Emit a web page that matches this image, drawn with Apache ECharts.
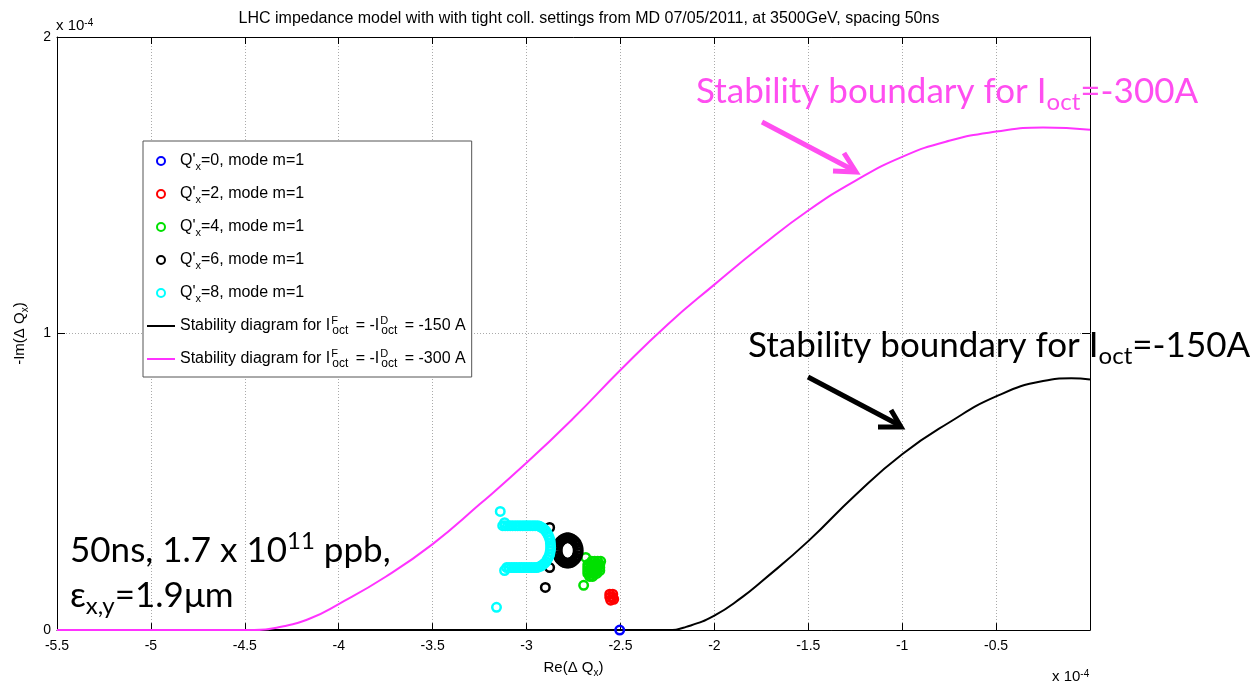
<!DOCTYPE html>
<html>
<head>
<meta charset="utf-8">
<script src="https://cdn.jsdelivr.net/npm/echarts@6/dist/echarts.min.js"></script>
<style>
  html, body { margin: 0; padding: 0; background: #fff; }
  #chart { width: 1256px; height: 683px; }
</style>
</head>
<body>
<div id="chart"></div>
<script>
// values in units of 1e-4 (axes carry the "x 10^-4" factor)
const xTicks = [-5.5, -5, -4.5, -4, -3.5, -3, -2.5, -2, -1.5, -1, -0.5, 0]
const yTicks = [0, 1, 2]

const qp0 = [[-2.504, 0]]
const qp2 = [[-2.557, 0.121], [-2.541, 0.121], [-2.557, 0.111], [-2.541, 0.111],
  [-2.552, 0.101], [-2.536, 0.104]]
const qp4 = [[-2.685, 0.245], [-2.696, 0.151],
  [-2.653, 0.232], [-2.637, 0.232], [-2.621, 0.232], [-2.605, 0.232],
  [-2.674, 0.221], [-2.658, 0.221], [-2.642, 0.221], [-2.626, 0.221], [-2.610, 0.221],
  [-2.674, 0.211], [-2.658, 0.211], [-2.642, 0.211], [-2.626, 0.211], [-2.610, 0.211],
  [-2.674, 0.201], [-2.658, 0.201], [-2.642, 0.201], [-2.626, 0.201], [-2.610, 0.201],
  [-2.674, 0.191], [-2.658, 0.191], [-2.642, 0.191], [-2.626, 0.191],
  [-2.664, 0.181], [-2.648, 0.181]]
const qp6 = [[-2.877, 0.346], [-2.877, 0.211], [-2.900, 0.144],
  [-2.725, 0.268], [-2.726, 0.277], [-2.730, 0.286], [-2.736, 0.294], [-2.744, 0.300],
  [-2.753, 0.305], [-2.764, 0.309], [-2.775, 0.311], [-2.787, 0.311], [-2.798, 0.309],
  [-2.809, 0.305], [-2.818, 0.300], [-2.826, 0.294], [-2.832, 0.286], [-2.836, 0.277],
  [-2.837, 0.268], [-2.836, 0.260], [-2.832, 0.251], [-2.826, 0.243], [-2.818, 0.237],
  [-2.809, 0.232], [-2.798, 0.228], [-2.787, 0.226], [-2.775, 0.226], [-2.764, 0.228],
  [-2.753, 0.232], [-2.744, 0.237], [-2.736, 0.243], [-2.730, 0.251], [-2.726, 0.260]]
const qp8 = [[-3.14, 0.40], [-3.16, 0.077], [-3.117, 0.362], [-3.117, 0.201],
  [-3.127, 0.352], [-3.114, 0.352], [-3.100, 0.352], [-3.087, 0.352], [-3.074, 0.352],
  [-3.060, 0.352], [-3.047, 0.352], [-3.034, 0.352], [-3.020, 0.352], [-3.007, 0.352],
  [-2.994, 0.352], [-2.981, 0.352], [-2.967, 0.352], [-2.954, 0.352],
  [-2.940, 0.352], [-2.930, 0.350], [-2.919, 0.346], [-2.909, 0.342], [-2.900, 0.336],
  [-2.892, 0.329], [-2.885, 0.321], [-2.880, 0.313], [-2.875, 0.304], [-2.873, 0.294],
  [-2.872, 0.284], [-2.872, 0.274], [-2.874, 0.265], [-2.877, 0.255], [-2.882, 0.247],
  [-2.889, 0.239], [-2.896, 0.231], [-2.905, 0.225], [-2.914, 0.220], [-2.924, 0.216],
  [-2.935, 0.213], [-2.946, 0.211],
  [-2.959, 0.211], [-2.973, 0.211], [-2.986, 0.211], [-2.999, 0.211], [-3.013, 0.211],
  [-3.026, 0.211], [-3.039, 0.211], [-3.053, 0.211], [-3.066, 0.211], [-3.079, 0.211],
  [-3.093, 0.211], [-3.106, 0.211]]

const sd150 = [[-5.5, 0], [-2.25, 0], [-2.15, 0.011], [-2.0, 0.049], [-1.85, 0.112],
  [-1.75, 0.163], [-1.5, 0.300], [-1.25, 0.455], [-1.0, 0.593], [-0.75, 0.700],
  [-0.5, 0.788], [-0.25, 0.840], [-0.1, 0.849], [0, 0.845]]
const sd300 = [[-5.5, 0], [-4.45, 0], [-4.3, 0.012], [-4.15, 0.04], [-4.0, 0.088],
  [-3.75, 0.18], [-3.5, 0.29], [-3.25, 0.424], [-3.0, 0.564], [-2.75, 0.715],
  [-2.5, 0.877], [-2.25, 1.03], [-2.0, 1.165], [-1.75, 1.295], [-1.5, 1.415],
  [-1.25, 1.515], [-1.0, 1.596], [-0.75, 1.65], [-0.5, 1.681], [-0.25, 1.695], [0, 1.687]]

const matFont = 'Liberation Sans'
const noteFont = 'Lato'
const pink = '#ff4ef0'
const lineIcon = 'path://M0,0H28V2H0Z'

function ring(name, data, color) {
  return {
    name: name,
    type: 'scatter',
    data: data,
    symbol: 'circle',
    symbolSize: 8.5,
    itemStyle: { color: 'transparent', borderColor: color, borderWidth: 2.5, opacity: 1 },
    emphasis: { disabled: true },
    z: 3
  }
}

function legendText(name) {
  if (name.indexOf("Q'") === 0) {
    return "Q'{sub|x}" + name.slice(3)
  }
  return name.replace(/I\^(\w)_oct/g, 'I{sup|$1}{oct|oct}')
}

const name150 = 'Stability diagram for I^F_oct = -I^D_oct = -150 A'
const name300 = 'Stability diagram for I^F_oct = -I^D_oct = -300 A'

const chart = echarts.init(document.getElementById('chart'))

chart.setOption({
  animation: false,
  backgroundColor: '#fff',
  title: {
    text: 'LHC impedance model with with tight coll. settings from MD 07/05/2011, at 3500GeV, spacing 50ns',
    left: 584,
    textAlign: 'center',
    top: 6,
    textStyle: { fontFamily: matFont, fontSize: 16, fontWeight: 'normal', color: '#000' }
  },
  grid: { left: 57, right: 166, top: 37, bottom: 50 },
  legend: {
    orient: 'vertical',
    left: 143,
    top: 141,
    padding: [9, 6, 7, 4],
    itemGap: 11,
    itemWidth: 28,
    itemHeight: 8,
    backgroundColor: '#fff',
    borderColor: '#555',
    borderWidth: 1,
    borderRadius: 0,
    selectedMode: false,
    formatter: legendText,
    textStyle: {
      fontFamily: matFont, fontSize: 16, color: '#000', lineHeight: 22,
      rich: {
        sub: { fontFamily: matFont, fontSize: 11, lineHeight: 11, verticalAlign: 'bottom', color: '#000' },
        oct: { fontFamily: matFont, fontSize: 12, lineHeight: 11, verticalAlign: 'bottom', color: '#000', padding: [0, 3, 0, 1] },
        sup: { fontFamily: matFont, fontSize: 11, lineHeight: 11, verticalAlign: 'top', width: 0, color: '#000', padding: [0, 0, 0, 1] }
      }
    },
    data: ["Q'x=0, mode m=1", "Q'x=2, mode m=1", "Q'x=4, mode m=1", "Q'x=6, mode m=1", "Q'x=8, mode m=1",
      { name: name150, icon: lineIcon }, { name: name300, icon: lineIcon }]
  },
  xAxis: [{
    type: 'value',
    min: xTicks[0],
    max: xTicks[xTicks.length - 1],
    interval: 0.5,
    position: 'bottom',
    name: 'Re(Δ Q{sub|x})',
    nameLocation: 'middle',
    nameGap: 21,
    nameTextStyle: {
      fontFamily: matFont, fontSize: 15, color: '#000', lineHeight: 20,
      rich: { sub: { fontFamily: matFont, fontSize: 10, lineHeight: 8, verticalAlign: 'bottom', color: '#000' } }
    },
    axisLine: { show: true, onZero: false, lineStyle: { color: '#000', width: 1 } },
    axisTick: { show: true, inside: true, length: 7, lineStyle: { color: '#000' } },
    axisLabel: {
      color: '#000', fontFamily: matFont, fontSize: 14, margin: 9,
      formatter: v => (v === 0 ? '' : String(v))
    },
    splitLine: { show: true, lineStyle: { type: [1, 2], color: '#aaa', width: 1 } }
  }, {
    type: 'value',
    min: xTicks[0],
    max: xTicks[xTicks.length - 1],
    interval: 0.5,
    position: 'top',
    axisLine: { show: true, onZero: false, lineStyle: { color: '#000', width: 1 } },
    axisTick: { show: true, inside: true, length: 7, lineStyle: { color: '#000' } },
    axisLabel: { show: false },
    splitLine: { show: false }
  }],
  yAxis: [{
    type: 'value',
    min: yTicks[0],
    max: yTicks[yTicks.length - 1],
    interval: 1,
    position: 'left',
    name: '-Im(Δ Q{sub|x})',
    nameLocation: 'middle',
    nameGap: 27,
    nameRotate: 90,
    nameTextStyle: {
      fontFamily: matFont, fontSize: 15, color: '#000', lineHeight: 20,
      rich: { sub: { fontFamily: matFont, fontSize: 10, lineHeight: 8, verticalAlign: 'bottom', color: '#000' } }
    },
    axisLine: { show: true, onZero: false, lineStyle: { color: '#000', width: 1 } },
    axisTick: { show: true, inside: true, length: 8, lineStyle: { color: '#000' } },
    axisLabel: { color: '#000', fontFamily: matFont, fontSize: 14, margin: 6 },
    splitLine: { show: true, lineStyle: { type: [1, 2], color: '#aaa', width: 1 } }
  }, {
    type: 'value',
    min: yTicks[0],
    max: yTicks[yTicks.length - 1],
    interval: 1,
    position: 'right',
    axisLine: { show: true, onZero: false, lineStyle: { color: '#000', width: 1 } },
    axisTick: { show: true, inside: true, length: 8, lineStyle: { color: '#000' } },
    axisLabel: { show: false },
    splitLine: { show: false }
  }],
  series: [
    ring("Q'x=0, mode m=1", qp0, '#0000ff'),
    ring("Q'x=2, mode m=1", qp2, '#ff0000'),
    ring("Q'x=4, mode m=1", qp4, '#00e000'),
    ring("Q'x=6, mode m=1", qp6, '#000000'),
    ring("Q'x=8, mode m=1", qp8, '#00ffff'),
    {
      name: name150,
      type: 'line',
      data: sd150,
      symbol: 'none',
      smooth: 0.5,
      lineStyle: { color: '#000', width: 2 },
      itemStyle: { color: '#000' },
      z: 2
    },
    {
      name: name300,
      type: 'line',
      data: sd300,
      symbol: 'none',
      smooth: 0.5,
      lineStyle: { color: '#ff33ff', width: 2 },
      itemStyle: { color: '#ff33ff' },
      z: 2
    }
  ],
  graphic: [
    {
      type: 'text', left: 56, top: 18, z: 10,
      style: {
        text: 'x 10{sup|-4}', fill: '#000', font: '15px ' + matFont,
        rich: { sup: { fontSize: 10, fontFamily: matFont, verticalAlign: 'top', lineHeight: 10 } }
      }
    },
    {
      type: 'text', left: 1052, top: 669, z: 10,
      style: {
        text: 'x 10{sup|-4}', fill: '#000', font: '15px ' + matFont,
        rich: { sup: { fontSize: 10, fontFamily: matFont, verticalAlign: 'top', lineHeight: 10 } }
      }
    },
    {
      type: 'text', x: 696, y: 70, z: 10,
      style: {
        text: 'Stability boundary for I{sub|oct}=-300A', fill: pink,
        font: '35px ' + noteFont, lineHeight: 44,
        rich: { sub: { fontSize: 24, fontFamily: noteFont, fill: pink, verticalAlign: 'bottom', lineHeight: 15 } }
      }
    },
    {
      type: 'text', x: 748, y: 324, z: 10,
      style: {
        text: 'Stability boundary for I{sub|oct}=-150A', fill: '#000',
        font: '35px ' + noteFont, lineHeight: 44,
        rich: { sub: { fontSize: 24, fontFamily: noteFont, fill: '#000', verticalAlign: 'bottom', lineHeight: 15 } }
      }
    },
    {
      type: 'text', x: 70, y: 529, z: 10,
      style: {
        text: '50ns, 1.7 x 10{sup|11} ppb,', fill: '#000',
        font: '35px ' + noteFont, lineHeight: 44,
        rich: { sup: { fontSize: 24, fontFamily: noteFont, fill: '#000', verticalAlign: 'top', lineHeight: 28 } }
      }
    },
    {
      type: 'text', x: 70, y: 574, z: 10,
      style: {
        text: 'ε{sub|x,y}=1.9μm', fill: '#000',
        font: '35px ' + noteFont, lineHeight: 44,
        rich: { sub: { fontSize: 24, fontFamily: noteFont, fill: '#000', verticalAlign: 'bottom', lineHeight: 15 } }
      }
    },
    // arrows
    {
      type: 'polyline', z: 10,
      shape: { points: [[762, 122], [853, 170]] },
      style: { stroke: pink, lineWidth: 5, fill: null }
    },
    {
      type: 'polyline', z: 10,
      shape: { points: [[833, 171], [856, 172], [844, 153]] },
      style: { stroke: pink, lineWidth: 5, fill: null, lineJoin: 'miter' }
    },
    {
      type: 'polyline', z: 10,
      shape: { points: [[808, 377], [899, 425]] },
      style: { stroke: '#000', lineWidth: 5, fill: null }
    },
    {
      type: 'polyline', z: 10,
      shape: { points: [[878, 427], [901, 427], [891, 410]] },
      style: { stroke: '#000', lineWidth: 5, fill: null, lineJoin: 'miter' }
    }
  ]
})
</script>
</body>
</html>
